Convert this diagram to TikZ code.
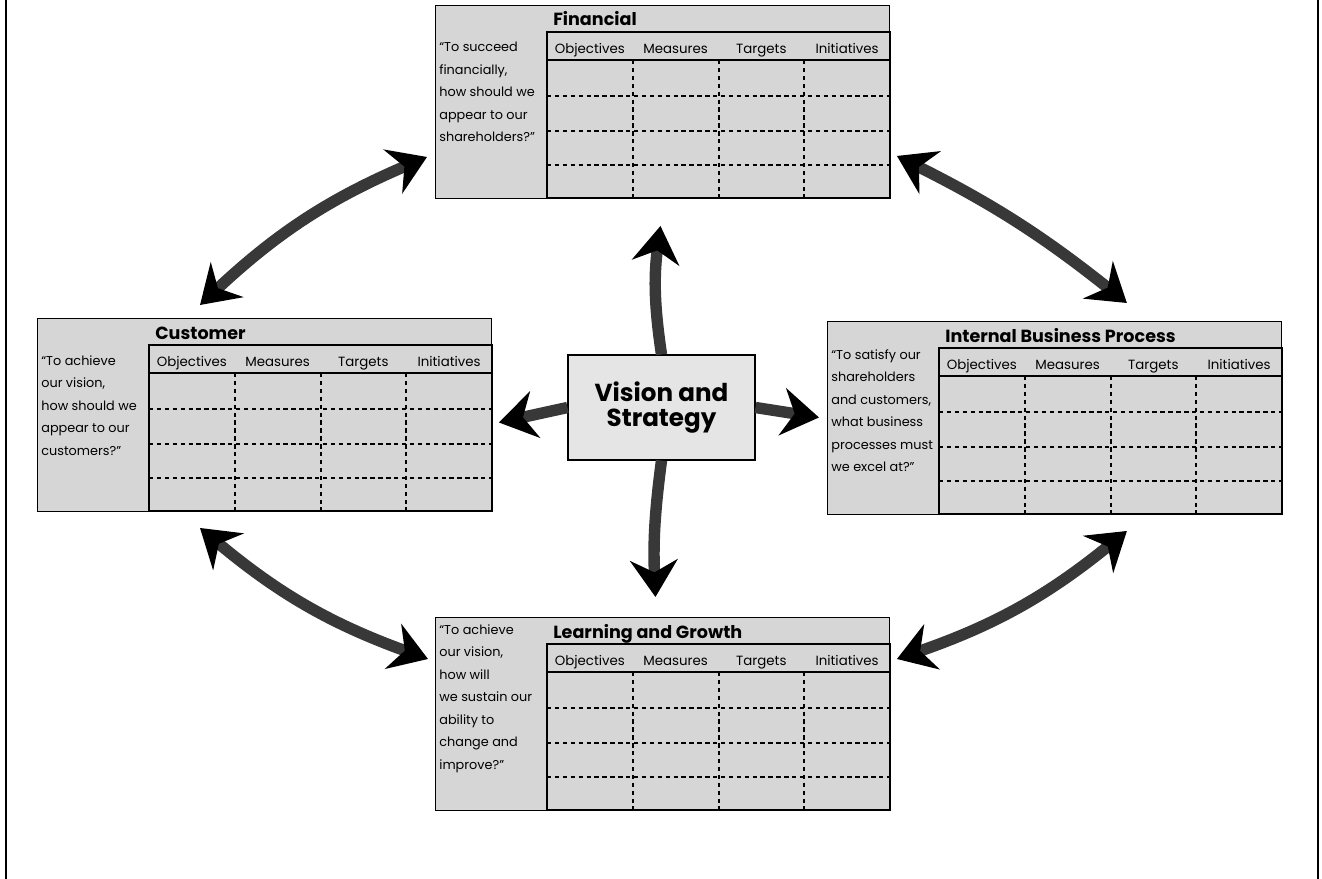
\documentclass[tikz,border=0pt]{standalone}
\usepackage{fontspec}
\setmainfont{Poppins}
\usepackage{tikz}
\usetikzlibrary{arrows.meta,positioning}

\tikzset{
  panel/.style={draw, line width=0.5pt, fill=black!16, minimum width=9.1cm, minimum height=3.86cm, inner sep=0pt, outer sep=0pt},
  tableline/.style={line width=1.1pt},
  cellline/.style={line width=0.7pt, dash pattern=on 2.5pt off 2pt},
  colhead/.style={anchor=base, inner sep=0pt, font=\fontsize{7.6}{9}\selectfont},
  paneltitle/.style={anchor=base west, inner sep=0pt, font=\bfseries\fontsize{10}{12}\selectfont},
  quote/.style={anchor=north west, align=left, inner sep=0pt, font=\fontsize{7.3}{12.8}\selectfont},
  vision/.style={draw, line width=0.6pt, fill=black!10, minimum width=3.74cm, minimum height=2.1cm, align=center, font=\bfseries\fontsize{14}{14.5}\selectfont},
  bigarrow/.style={line width=6.5pt, draw=black!78, arrows={Stealth[length=21pt,width=27pt,inset=7pt,color=black]-Stealth[length=21pt,width=27pt,inset=7pt,color=black]}},
  outarrow/.style={line width=6.5pt, draw=black!78, arrows={-Stealth[length=21pt,width=27pt,inset=7pt,color=black]}},
}

% one perspective: name, top-left corner, title, quote, top of quote
\newcommand{\bscpanel}[5]{%
  \node[panel, anchor=north west] (#1) at (#2) {};
  \begin{scope}[shift={(#1.north west)}]
    \draw[tableline] (112,27) rectangle (455,193) (112,55) -- (455,55);
    \foreach \yy in {91,126,160} \draw[cellline] (112,\yy) -- (455,\yy);
    \foreach \xx in {198,284,369} \draw[cellline] (\xx,55) -- (\xx,193);
    \foreach \lab [count=\i] in {Objectives,Measures,Targets,Initiatives}
      \node[colhead] (#1-h\i) at (112+85.75*\i-42.9,48) {\lab};
    \node[paneltitle] (#1-title) at (118,21) {#3};
    \node[quote] (#1-quote) at (4,#5) {#4};
  \end{scope}}

\begin{document}
\begin{tikzpicture}[x=0.02cm, y=-0.02cm]
  \useasboundingbox (0,0) rectangle (1322,879);
  \draw[line width=1.5pt] (6,0) -- (6,879) (1318,0) -- (1318,879);

  \bscpanel{fin}{435,5}{Financial}{“To succeed\\ financially,\\ how should we\\ appear to our\\ shareholders?”}{37}
  \bscpanel{cus}{37,318}{Customer}{“To achieve\\ our vision,\\ how should we\\ appear to our\\ customers?”}{37}
  \bscpanel{ibp}{827,321}{Internal Business Process}{“To satisfy our\\ shareholders\\ and customers,\\ what business\\ processes must\\ we excel at?”}{28}
  \bscpanel{lg}{435,617}{Learning and Growth}{“To achieve\\ our vision,\\ how will\\ we sustain our\\ ability to\\ change and\\ improve?”}{7}

  \node[vision] (vis) at (661.5,407.5) {Vision and\\ Strategy};

  % links between the perspectives
  \draw[bigarrow] ([shift={(-8,-41)}]fin.south west) to[bend right=10] ([shift={(163,-13)}]cus.north west);
  \draw[bigarrow] ([shift={(7,-42)}]fin.south east) to[bend left=6] ([shift={(-155,-18)}]ibp.north east);
  \draw[bigarrow] ([shift={(163,17)}]cus.south west) to[bend right=10] ([shift={(-7,42)}]lg.north west);
  \draw[bigarrow] ([shift={(-155,17)}]ibp.south east) to[bend left=10] ([shift={(7,42)}]lg.north east);

  % from vision out
  \draw[outarrow] (vis.north) to[bend left=8] ([shift={(-2,28)}]fin.south);
  \draw[outarrow] (vis.south) to[bend right=5] ([shift={(-7,-20)}]lg.north);
  \draw[outarrow] (vis.west) -- ([shift={(7,8)}]cus.east);
  \draw[outarrow] (vis.east) -- ([shift={(-8,0)}]ibp.west);
\end{tikzpicture}
\end{document}
